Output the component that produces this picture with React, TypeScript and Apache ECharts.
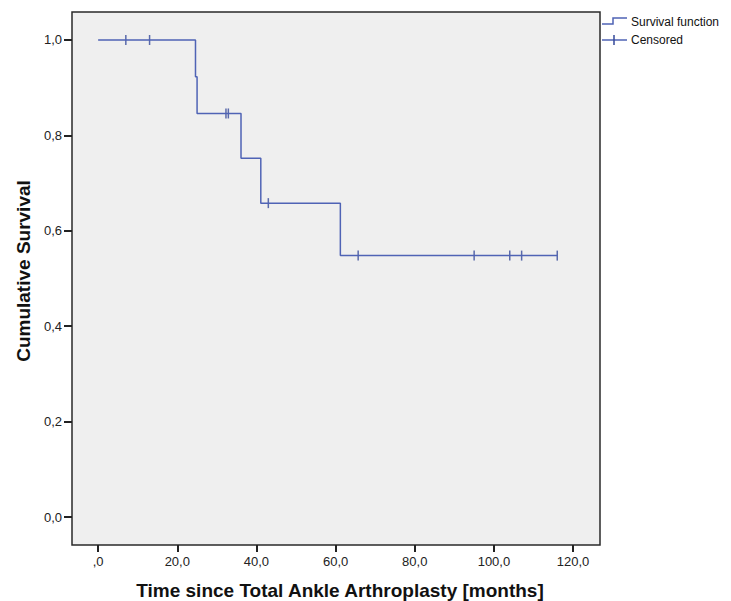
import React, { useEffect, useRef } from "react";
import * as echarts from "echarts";

const stepTimes = [0, 24.6, 25.0, 36.1, 41.1, 61.2, 116];
const survival = [1.0, 0.923, 0.846, 0.752, 0.658, 0.548, 0.548];
const censoredTimes = [7, 13, 32.3, 32.9, 43, 65.7, 95, 104, 107, 116];
const censoredSurvival = [1.0, 1.0, 0.846, 0.846, 0.658, 0.548, 0.548, 0.548, 0.548, 0.548];
const xTicks = [0, 20, 40, 60, 80, 100, 120];
const yTicks = [0, 0.2, 0.4, 0.6, 0.8, 1.0];

const xTitle = "Time since Total Ankle Arthroplasty [months]";
const yTitle = "Cumulative Survival";
const legendNames = ["Survival function", "Censored"];

const LINE = "#4f63b5";
const CENS = "#34489a";
const FONT = "Liberation Sans, Arial, sans-serif";

const fmtX = (v: number) => (v === 0 ? ",0" : v.toFixed(1).replace(".", ","));
const fmtY = (v: number) => v.toFixed(1).replace(".", ",");

export default function App() {
  const ref = useRef<HTMLDivElement>(null);
  useEffect(() => {
    if (!ref.current) return;
    const chart = echarts.init(ref.current, undefined, { renderer: "svg" });
    const curve = stepTimes.map((t, i) => [t, survival[i]]);
    const cens = censoredTimes.map((t, i) => [t, censoredSurvival[i]]);
    chart.setOption({
      animation: false,
      backgroundColor: "#ffffff",
      grid: {
        left: 72,
        top: 12,
        width: 528,
        height: 533,
        show: true,
        backgroundColor: "#efefef",
        borderColor: "#2a2a2a",
        borderWidth: 1.5,
      },
      xAxis: {
        type: "value",
        min: -6.6,
        max: 126.8,
        splitLine: { show: false },
        axisLine: { show: false, onZero: false },
        axisTick: { show: true, customValues: xTicks, length: 7, lineStyle: { color: "#222", width: 2 } },
        axisLabel: {
          customValues: xTicks,
          formatter: fmtX,
          color: "#222",
          fontFamily: FONT,
          fontSize: 13,
          margin: 10,
        },
      },
      yAxis: {
        type: "value",
        min: -0.0587,
        max: 1.0587,
        splitLine: { show: false },
        axisLine: { show: false, onZero: false },
        axisTick: { show: true, customValues: yTicks, length: 8, lineStyle: { color: "#222", width: 2 } },
        axisLabel: {
          customValues: yTicks,
          formatter: fmtY,
          color: "#222",
          fontFamily: FONT,
          fontSize: 13,
          margin: 10,
        },
      },
      series: [
        {
          name: legendNames[0],
          type: "line",
          step: "end",
          data: curve,
          showSymbol: false,
          lineStyle: { color: LINE, width: 1.5 },
        },
        {
          name: legendNames[1],
          type: "scatter",
          data: cens,
          symbol: "rect",
          symbolSize: [1.5, 10],
          itemStyle: { color: CENS },
        },
      ],
      graphic: [
        {
          type: "text",
          x: 340,
          y: 590,
          style: {
            text: xTitle,
            fontFamily: FONT,
            fontWeight: "bold",
            fontSize: 19,
            fill: "#111",
            align: "center",
            verticalAlign: "middle",
          },
        },
        {
          type: "text",
          x: 23,
          y: 271,
          rotation: Math.PI / 2,
          style: {
            text: yTitle,
            fontFamily: FONT,
            fontWeight: "bold",
            fontSize: 19,
            fill: "#111",
            align: "center",
            verticalAlign: "middle",
          },
        },
        {
          type: "polyline",
          shape: { points: [[602, 24], [613, 24], [613, 18], [627, 18]] },
          style: { stroke: LINE, lineWidth: 1.5, fill: "none" },
        },
        {
          type: "line",
          shape: { x1: 602, y1: 40, x2: 627, y2: 40 },
          style: { stroke: LINE, lineWidth: 1.5 },
        },
        {
          type: "line",
          shape: { x1: 614, y1: 35, x2: 614, y2: 45 },
          style: { stroke: CENS, lineWidth: 1.5 },
        },
        {
          type: "text",
          x: 631,
          y: 22,
          style: { text: legendNames[0], fontFamily: FONT, fontSize: 12, fill: "#111", verticalAlign: "middle" },
        },
        {
          type: "text",
          x: 631,
          y: 40,
          style: { text: legendNames[1], fontFamily: FONT, fontSize: 12, fill: "#111", verticalAlign: "middle" },
        },
      ],
    });
    return () => chart.dispose();
  }, []);
  return (
    <div
      ref={ref}
      style={{ position: "absolute", left: 0, top: 0, width: 731, height: 601 }}
    />
  );
}
